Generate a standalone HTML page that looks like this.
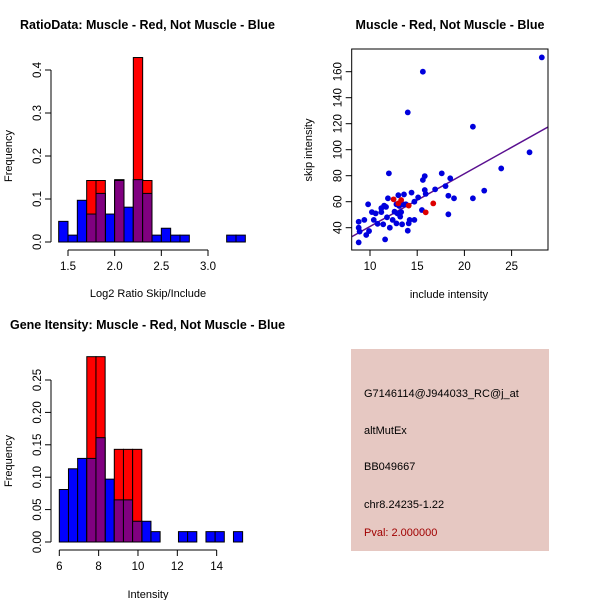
<!DOCTYPE html>
<html><head><meta charset="utf-8"><style>
body{margin:0;background:#fff}
svg{display:block;font-family:"Liberation Sans",sans-serif}
</style></head><body>
<svg id="c" width="600" height="600" viewBox="0 0 600 600" xmlns="http://www.w3.org/2000/svg">
<rect x="0" y="0" width="600" height="600" fill="#fff"/>
<text x="20" y="29" font-size="12.5" font-weight="bold">RatioData: Muscle - Red, Not Muscle - Blue</text>
<text x="450" y="29" font-size="12.5" font-weight="bold" text-anchor="middle">Muscle - Red, Not Muscle - Blue</text>
<text x="10" y="329" font-size="12.5" font-weight="bold">Gene Itensity: Muscle - Red, Not Muscle - Blue</text>
<g id="g1"></g>
<g id="g2"></g>
<g id="g3"></g>
<g>
<rect x="351" y="349" width="198" height="202" fill="#e6c8c2"/>
<text x="364" y="397" font-size="11">G7146114@J944033_RC@j_at</text>
<text x="364" y="434" font-size="11">altMutEx</text>
<text x="364" y="470" font-size="11">BB049667</text>
<text x="364" y="508" font-size="11">chr8.24235-1.22</text>
<text x="364" y="536" font-size="11" fill="#a00000">Pval: 2.000000</text>
</g>
</svg>
<script>
const ratioStart = 1.4, ratioBin = 0.1;
const ratioBlue = [0.048,0.016,0.097,0.065,0.113,0.065,0.145,0.081,0.145,0.113,0.016,0.032,0.016,0.016,0,0,0,0,0.016,0.016];
const ratioRed  = [0,0,0,0.143,0.143,0,0.143,0,0.429,0.143,0,0,0,0,0,0,0,0,0,0];
const ratioXTicks = [1.5,2.0,2.5,3.0];
const ratioYTicks = [0.0,0.1,0.2,0.3,0.4];

const intStart = 6.0, intBin = 0.466;
const intBlue = [0.081,0.113,0.129,0.129,0.161,0.097,0.065,0.065,0.032,0.032,0.016,0,0,0.016,0.016,0,0.016,0.016,0,0.016];
const intRed  = [0,0,0,0.286,0.286,0,0.143,0.143,0.143,0,0,0,0,0,0,0,0,0,0,0];
const intXTicks = [6,8,10,12,14];
const intYTicks = [0.00,0.05,0.10,0.15,0.20,0.25];

const scatBlueX = [8.8,8.8,8.9,8.8,9.4,9.8,9.6,9.9,10.2,10.4,10.6,10.8,11.2,11.2,11.4,11.5,11.7,11.8,11.6,11.9,12.0,12.1,12.4,12.6,12.8,12.8,12.9,13.0,13.1,13.2,13.3,13.4,13.5,13.6,13.8,14.0,14.0,14.1,14.2,14.4,14.7,14.7,15.1,15.5,15.6,15.6,15.8,15.8,15.9,16.9,17.6,18.0,18.3,18.3,18.5,18.9,20.9,20.9,22.1,23.9,26.9,28.2];
const scatBlueY = [44.6,40,37,28.7,46,58,34.4,37.4,52,46,51,43,52,55,42.6,57,56,48,31,62.6,81.8,40,46,52.3,58,43.3,51,65,56.7,48.5,52,42.6,58,65.6,58,128.7,37.7,43.3,46,67,46,60,63.3,53.6,160,76.7,69,79.7,66,69.5,81.8,72,64.6,50.3,78,62.6,117.7,62.6,68.5,85.6,98,171];
const scatRedX = [12.5,13.3,14.1,15.9,16.7,13.0];
const scatRedY = [61.8,61.3,57,51.8,58.7,58.7];
const fitIntercept = 0.7, fitSlope = 4.05;
const scatXTicks = [10,15,20,25];
const scatYTicks = [40,60,80,100,120,140,160];

const NS="http://www.w3.org/2000/svg";
function mk(p,tag,a){const e=document.createElementNS(NS,tag);for(const k in a)e.setAttribute(k,a[k]);p.appendChild(e);return e;}

function hist(g,start,bin,blue,red,xt,yt,X,Y,axY,axX,xlab,xlabY,ylabX,decimals){
  for(let i=0;i<blue.length;i++){
    const x0=X(start+i*bin),x1=X(start+(i+1)*bin);
    if(blue[i]>0){const r=mk(g,'rect',{x:x0,y:Y(blue[i]),width:x1-x0,height:Y(0)-Y(blue[i]),fill:'#0000ff',stroke:'#000','stroke-width':1});
      }
  }
  for(let i=0;i<red.length;i++){
    if(red[i]<=0)continue;
    const x0=X(start+i*bin),x1=X(start+(i+1)*bin);
    const r=mk(g,'rect',{x:x0,y:Y(red[i]),width:x1-x0,height:Y(0)-Y(red[i]),fill:'#ff0000',stroke:'#000','stroke-width':1});
    
    const m=Math.min(red[i],blue[i]);
    if(m>0){const p=mk(g,'rect',{x:x0,y:Y(m),width:x1-x0,height:Y(0)-Y(m),fill:'#800080',stroke:'#000','stroke-width':1});
      }
  }
  const xa=mk(g,'line',{x1:X(xt[0]),x2:X(xt[xt.length-1]),y1:axY,y2:axY,stroke:'#000'});
  
  xt.forEach(v=>{mk(g,'line',{x1:X(v),x2:X(v),y1:axY,y2:axY+6,stroke:'#000'});
    const t=mk(g,'text',{x:X(v),y:axY+20,'font-size':11.5,'text-anchor':'middle'});t.textContent=v.toFixed(decimals.x);
    });
  const ya=mk(g,'line',{x1:axX,x2:axX,y1:Y(yt[0]),y2:Y(yt[yt.length-1]),stroke:'#000'});
  
  yt.forEach(v=>{mk(g,'line',{x1:axX-6,x2:axX,y1:Y(v),y2:Y(v),stroke:'#000'});
    const t=mk(g,'text',{x:axX-10,y:Y(v),'font-size':11.5,'text-anchor':'middle',transform:`rotate(-90 ${axX-10} ${Y(v)})`});t.textContent=v.toFixed(decimals.y);
    });
  const xl=mk(g,'text',{x:(X(xt[0])+X(xt[xt.length-1]))/2+10,y:xlabY,'font-size':11,'text-anchor':'middle'});xl.textContent=xlab;
  
  const my=(Y(yt[0])+Y(yt[yt.length-1]))/2;
  const yl=mk(g,'text',{x:ylabX,y:my,'font-size':11,'text-anchor':'middle',transform:`rotate(-90 ${ylabX} ${my})`});yl.textContent='Frequency';
  
}

(function(){
  const g=document.getElementById('g1');
  const X=v=>68+(v-1.5)*93.33, Y=v=>242-v*430;
  hist(g,ratioStart,ratioBin,ratioBlue,ratioRed,ratioXTicks,ratioYTicks,X,Y,250,51,'Log2 Ratio Skip/Include',297,12,{x:1,y:1});
})();
(function(){
  const g=document.getElementById('g3');
  const X=v=>59.3+(v-6)*19.67, Y=v=>542-v*648;
  hist(g,intStart,intBin,intBlue,intRed,intXTicks,intYTicks,X,Y,550,51,'Intensity',598,12,{x:0,y:2});
})();
(function(){
  const g=document.getElementById('g2');
  const X=v=>370+(v-10)*9.44, Y=v=>227.7-(v-40)*1.3;
  const L=351.7,R=548,T=49,B=250;
  const fl=mk(g,'line',{x1:L,x2:R,y1:Y(fitIntercept+fitSlope*7.99),y2:Y(fitIntercept+fitSlope*28.83),stroke:'#5a1090','stroke-width':1.5});
  
  for(let i=0;i<scatBlueX.length;i++){const c=mk(g,'circle',{cx:X(scatBlueX[i]),cy:Y(scatBlueY[i]),r:2.9,fill:'#0000dd'});
    }
  for(let i=0;i<scatRedX.length;i++){const c=mk(g,'circle',{cx:X(scatRedX[i]),cy:Y(scatRedY[i]),r:2.9,fill:'#dd0000'});
    }
  const b=mk(g,'rect',{x:L,y:T,width:R-L,height:B-T,fill:'none',stroke:'#000'});
  
  scatXTicks.forEach(v=>{mk(g,'line',{x1:X(v),x2:X(v),y1:B,y2:B+6,stroke:'#000'});
    const t=mk(g,'text',{x:X(v),y:B+20,'font-size':11.5,'text-anchor':'middle'});t.textContent=v;
    });
  scatYTicks.forEach(v=>{mk(g,'line',{x1:L-6,x2:L,y1:Y(v),y2:Y(v),stroke:'#000'});
    const t=mk(g,'text',{x:L-10,y:Y(v),'font-size':11.5,'text-anchor':'middle',transform:`rotate(-90 ${L-10} ${Y(v)})`});t.textContent=v;
    });
  const xl=mk(g,'text',{x:449,y:298,'font-size':11,'text-anchor':'middle'});xl.textContent='include intensity';
  
  const yl=mk(g,'text',{x:312,y:150,'font-size':11,'text-anchor':'middle',transform:'rotate(-90 312 150)'});yl.textContent='skip intensity';
  
})();
</script>
</body></html>
